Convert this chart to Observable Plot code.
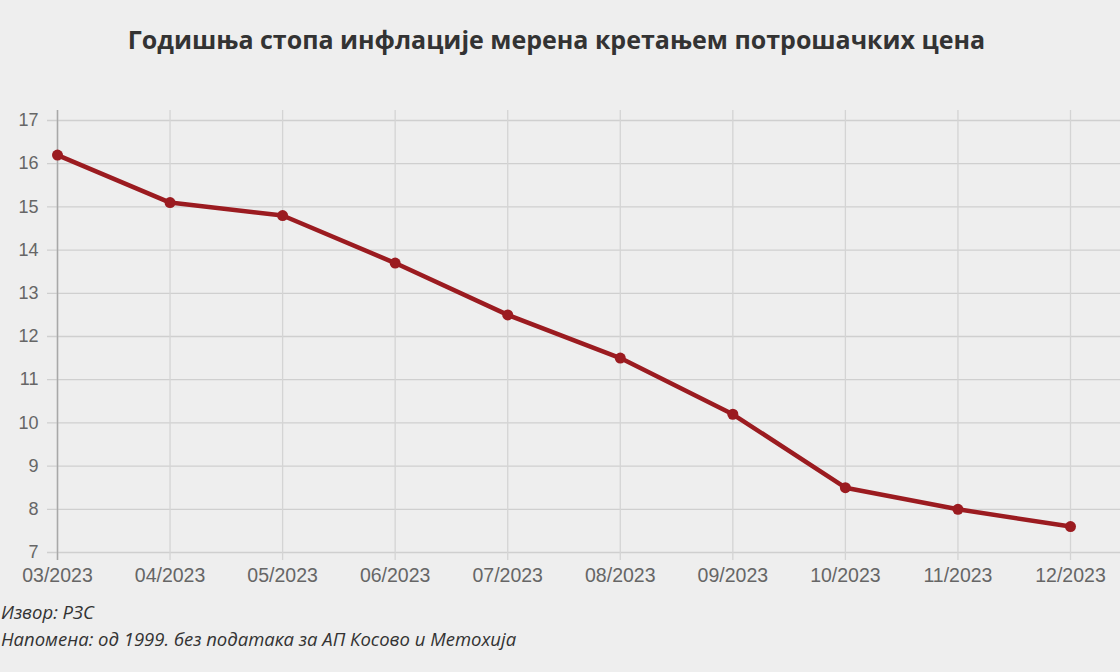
<!DOCTYPE html>
<html>
<head>
<meta charset="utf-8">
<script src="https://cdn.jsdelivr.net/npm/d3@7"></script>
<script src="https://cdn.jsdelivr.net/npm/@observablehq/plot@0.6"></script>
<style>
  html, body { margin: 0; padding: 0; background: #eeeeee; width: 1120px; height: 672px; overflow: hidden; }
  #title { height: 80px; box-sizing: border-box; padding-top: 22px; text-align: center; font-family: "Open Sans", sans-serif; font-weight: 700; font-size: 25px; color: #333333; padding-right: 7px; }
  #chart { height: 520px; }
  #chart svg { display: block; background: transparent; max-width: none; }
  .cap { font-family: "Open Sans", sans-serif; font-style: italic; font-size: 18.5px; color: #333333; margin-left: 1px; line-height: 27px; }
</style>
</head>
<body>
<div id="title">Годишња стопа инфлације мерена кретањем потрошачких цена</div>
<div id="chart"></div>
<div class="cap" style="margin-top:-2px">Извор: РЗС</div>
<div class="cap">Напомена: од 1999. без података за АП Косово и Метохија</div>
<script>
const months = ["03/2023","04/2023","05/2023","06/2023","07/2023","08/2023","09/2023","10/2023","11/2023","12/2023"];
const inflation = [16.2, 15.1, 14.8, 13.7, 12.5, 11.5, 10.2, 8.5, 8.0, 7.6];
const yTicks = [7, 8, 9, 10, 11, 12, 13, 14, 15, 16, 17];

const data = months.map((m, i) => ({month: m, value: inflation[i]}));

const chart = Plot.plot({
  width: 1120,
  height: 520,
  marginTop: 40,
  marginBottom: 48,
  marginLeft: 57,
  marginRight: 50,
  style: {background: "transparent", fontFamily: "'Liberation Sans', Arial, sans-serif", fontSize: "18px", color: "#666666", maxWidth: "none"},
  x: {type: "point", domain: months, padding: 0, round: false, label: null},
  y: {domain: [7, 17], label: null},
  marks: [
    Plot.ruleY(yTicks, {stroke: "#cfcfcf", strokeWidth: 1.3, insetLeft: -10, insetRight: -53}),
    Plot.ruleX(months, {stroke: "#d4d4d4", strokeWidth: 1.3, insetTop: -10, insetBottom: -8}),
    Plot.ruleX([months[0]], {stroke: "#a8a8a8", strokeWidth: 1.5, insetTop: -10, insetBottom: -8}),
    Plot.axisY({ticks: yTicks, tickSize: 0, tickPadding: 19, fill: "#666666", fontSize: 18, label: null}),
    Plot.axisX({tickSize: 0, tickPadding: 16, fill: "#666666", fontSize: 19.5, label: null}),
    Plot.line(data, {x: "month", y: "value", stroke: "#9b1b20", strokeWidth: 4.5, strokeLinejoin: "round"}),
    Plot.dot(data, {x: "month", y: "value", fill: "#9b1b20", r: 5.5, stroke: "none"})
  ]
});
document.getElementById("chart").appendChild(chart);
</script>
</body>
</html>
